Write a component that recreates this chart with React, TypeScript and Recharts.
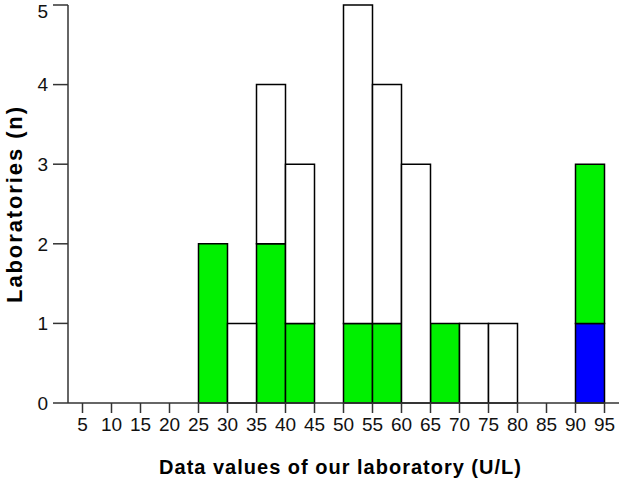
import { BarChart, Bar, XAxis, YAxis } from 'recharts';

// histogram bins (lower edge, U/L), width 5
const binStart = [25, 30, 35, 40, 45, 50, 55, 60, 65, 70, 75, 80, 85, 90];
const blueCounts = [0, 0, 0, 0, 0, 0, 0, 0, 0, 0, 0, 0, 0, 1];
const greenCounts = [2, 0, 2, 1, 0, 1, 1, 0, 1, 0, 0, 0, 0, 2];
const whiteCounts = [0, 1, 2, 2, 0, 4, 3, 3, 0, 1, 1, 0, 0, 0];

const xTicks = [5, 10, 15, 20, 25, 30, 35, 40, 45, 50, 55, 60, 65, 70, 75, 80, 85, 90, 95];
const yTicks = [0, 1, 2, 3, 4, 5];

const data = binStart.map((s, i) => ({
    mid: s + 2.5,
    blue: blueCounts[i],
    green: greenCounts[i],
    white: whiteCounts[i],
}));

const font = '"Liberation Sans", Arial, Helvetica, sans-serif';
const axisColor = '#333';
const tickStyle = { fill: '#111', fontSize: 19, fontFamily: font };

export default function App() {
    return (
        <div style={{ width: 622, height: 479 }}>
            <style>{'body{margin:0}'}</style>
            <BarChart
                width={622}
                height={479}
                data={data}
                margin={{ top: 5, right: 3, left: 0, bottom: 0 }}
                barCategoryGap={0}
                barGap={0}
            >
                <XAxis
                    type="number"
                    dataKey="mid"
                    domain={[2.5, 97.5]}
                    ticks={xTicks}
                    interval={0}
                    height={76}
                    tick={tickStyle}
                    tickSize={10}
                    tickMargin={5}
                    stroke={axisColor}
                    strokeWidth={1.5}
                    label={{
                        value: 'Data values of our laboratory (U/L)',
                        position: 'insideBottom',
                        offset: 5,
                        dx: -3,
                        style: { fontSize: 20, fontWeight: 'bold', fontFamily: font, fill: '#000', letterSpacing: 1 },
                    }}
                />
                <YAxis
                    domain={[0, 5]}
                    ticks={yTicks}
                    width={68}
                    tick={tickStyle}
                    tickSize={15}
                    tickMargin={5}
                    stroke={axisColor}
                    strokeWidth={1.5}
                    label={{
                        value: 'Laboratories (n)',
                        angle: -90,
                        position: 'insideLeft',
                        offset: 14,
                        style: { textAnchor: 'middle', fontSize: 22, fontWeight: 'bold', fontFamily: font, fill: '#000', letterSpacing: 1.9 },
                    }}
                />
                <Bar dataKey="blue" stackId="a" fill="#0000ff" stroke="#000" strokeWidth={1.5} isAnimationActive={false} />
                <Bar dataKey="green" stackId="a" fill="#00f000" stroke="#000" strokeWidth={1.5} isAnimationActive={false} />
                <Bar dataKey="white" stackId="a" fill="#ffffff" stroke="#000" strokeWidth={1.5} isAnimationActive={false} />
            </BarChart>
        </div>
    );
}
